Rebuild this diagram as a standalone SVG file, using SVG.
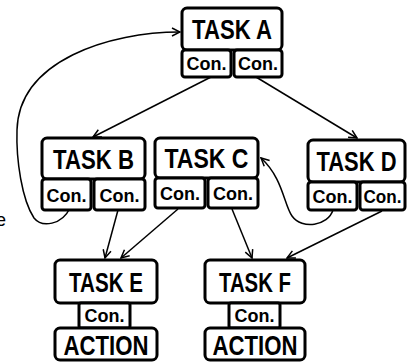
<svg xmlns="http://www.w3.org/2000/svg" width="408" height="362" viewBox="0 0 408 362">
<defs>
<style>
.box{fill:#fff;stroke:#000;stroke-width:3}
.t{font-family:"Liberation Sans",Arial,sans-serif;font-weight:bold;font-size:27px;text-anchor:middle;fill:#000}
.c{font-family:"Liberation Sans",Arial,sans-serif;font-weight:bold;font-size:18px;text-anchor:middle;fill:#000}
.e{fill:none;stroke:#000;stroke-width:1.5}
</style>
<marker id="ah" viewBox="0 0 10 10" markerWidth="10" markerHeight="10" refX="9" refY="5" orient="auto" markerUnits="userSpaceOnUse">
<path d="M1,1 L9,5 L1,9" fill="none" stroke="#000" stroke-width="1.5"/>
</marker>
</defs>
<rect width="408" height="362" fill="#fff"/>
<text x="-4" y="226" font-family="Liberation Sans,Arial,sans-serif" font-size="18" fill="#000">e</text>
<g id="connectors">
<path class="e" d="M211 77 L93 137" marker-end="url(#ah)"/>
<path class="e" d="M256 77 L357 138" marker-end="url(#ah)"/>
<path class="e" d="M70 208 C62 225,42 228,34 218 C22 200,16 160,17 130 C19 60,110 32,180 32" marker-end="url(#ah)"/>
<path class="e" d="M118 210 L105 258" marker-end="url(#ah)"/>
<path class="e" d="M178 209 L121 258" marker-end="url(#ah)"/>
<path class="e" d="M232 209 L252 258" marker-end="url(#ah)"/>
<path class="e" d="M382 211 L287 258" marker-end="url(#ah)"/>
<path class="e" d="M333 210 C328 226,302 230,292 216 C284 205,283 178,261 158" marker-end="url(#ah)"/>
</g>
<g id="taskA">
<rect class="box" x="182" y="8" width="100" height="42" rx="5"/>
<rect class="box" x="182" y="50" width="49" height="27" rx="3"/>
<rect class="box" x="234" y="50" width="48" height="27" rx="3"/>
<text class="t" x="232" y="39" textLength="80" lengthAdjust="spacingAndGlyphs">TASK A</text>
<text class="c" x="206.5" y="70">Con.</text>
<text class="c" x="258" y="70">Con.</text>
</g>
<g id="taskB">
<rect class="box" x="42" y="138" width="103" height="41" rx="5"/>
<rect class="box" x="42" y="179" width="49" height="31" rx="3"/>
<rect class="box" x="94" y="179" width="51" height="31" rx="3"/>
<text class="t" x="93.5" y="169" textLength="81" lengthAdjust="spacingAndGlyphs">TASK B</text>
<text class="c" x="66.5" y="202">Con.</text>
<text class="c" x="119.5" y="202">Con.</text>
</g>
<g id="taskC">
<rect class="box" x="155" y="138" width="103" height="40" rx="5"/>
<rect class="box" x="155" y="178" width="50" height="30" rx="3"/>
<rect class="box" x="208" y="178" width="50" height="30" rx="3"/>
<text class="t" x="206.5" y="168" textLength="84" lengthAdjust="spacingAndGlyphs">TASK C</text>
<text class="c" x="180" y="200">Con.</text>
<text class="c" x="233" y="200">Con.</text>
</g>
<g id="taskD">
<rect class="box" x="308" y="140" width="97" height="42" rx="5"/>
<rect class="box" x="308" y="182" width="49" height="28" rx="3"/>
<rect class="box" x="360" y="182" width="45" height="28" rx="3"/>
<text class="t" x="356.5" y="171" textLength="80" lengthAdjust="spacingAndGlyphs">TASK D</text>
<text class="c" x="332.5" y="203">Con.</text>
<text class="c" x="382.5" y="203" textLength="38" lengthAdjust="spacingAndGlyphs">Con.</text>
</g>
<g id="taskE">
<rect class="box" x="55" y="260" width="102" height="43" rx="5"/>
<rect class="box" x="79" y="303" width="51" height="25" rx="2"/>
<rect class="box" x="55" y="328" width="102" height="32" rx="5"/>
<text class="t" x="106" y="292" textLength="74" lengthAdjust="spacingAndGlyphs">TASK E</text>
<text class="c" x="104.5" y="322">Con.</text>
<text class="t" x="106" y="355" textLength="85" lengthAdjust="spacingAndGlyphs">ACTION</text>
</g>
<g id="taskF">
<rect class="box" x="205" y="260" width="100" height="43" rx="5"/>
<rect class="box" x="229" y="303" width="51" height="25" rx="2"/>
<rect class="box" x="205" y="328" width="100" height="32" rx="5"/>
<text class="t" x="255" y="292" textLength="72" lengthAdjust="spacingAndGlyphs">TASK F</text>
<text class="c" x="254.5" y="322">Con.</text>
<text class="t" x="255" y="355" textLength="85" lengthAdjust="spacingAndGlyphs">ACTION</text>
</g>
</svg>
